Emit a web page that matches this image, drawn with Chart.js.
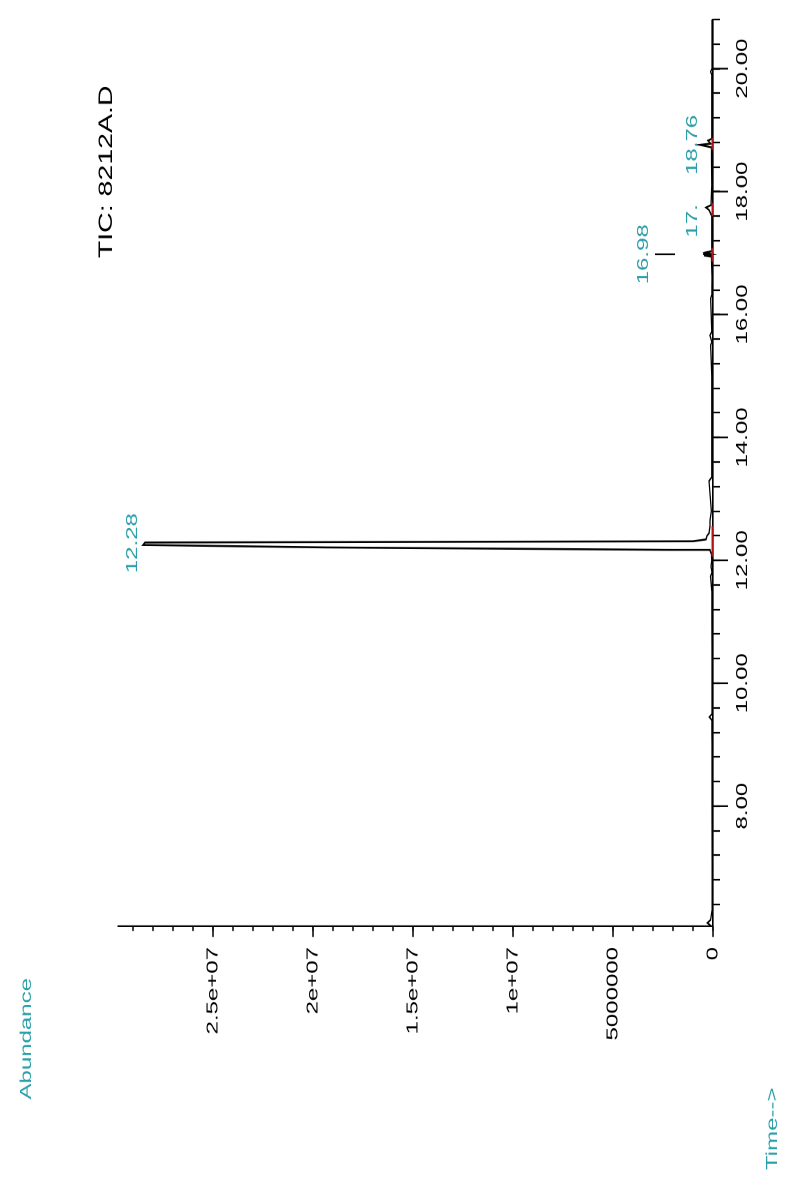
<!DOCTYPE html>
<html>
<head>
<meta charset="utf-8">
<title>TIC: 8212A.D</title>
<script src="https://cdn.jsdelivr.net/npm/chart.js@4.4.1/dist/chart.umd.min.js"></script>
<style>
  html, body { margin: 0; padding: 0; background: #fff; overflow: hidden; }
  /* chart is drawn upright, then turned on its side like the scanned printout */
  #wrap {
    position: absolute; left: 0; top: 0;
    width: 786px; height: 785px;
    transform-origin: 0 0;
    transform: translateY(1179px) rotate(-90deg) scaleX(1.5);
  }
</style>
</head>
<body>
<div id="wrap"><canvas id="tic" width="786" height="785"></canvas></div>
<script>
/* ---------------------------------------------------------------
   DATA
--------------------------------------------------------------- */
const traceTimes = [
  6.05, 6.10, 6.15, 6.30, 7.00, 8.00, 9.00, 9.40, 9.45, 9.50,
  10.50, 11.50, 11.74, 11.80, 11.90, 12.00, 12.10, 12.16, 12.17, 12.21,
  12.25, 12.29, 12.31, 12.34, 12.40, 12.44, 12.56, 12.65, 12.80, 13.29,
  13.35, 14.00, 15.00, 15.50, 15.55, 15.66, 15.72, 16.26, 16.32, 16.60,
  16.94, 16.96, 16.97, 16.98, 16.99, 17.01, 17.03, 17.60, 17.70, 17.74,
  17.78, 18.10, 18.72, 18.76, 18.78, 18.83, 18.86, 19.90, 19.95, 20.00,
  20.80
];
const traceAbundance = [
  100000, 280000, 120000, 50000, 40000, 50000, 50000, 60000, 180000, 50000,
  50000, 60000, 120000, 50000, 100000, 60000, 80000, 150000, 2200000, 19400000,
  28500000, 28400000, 1000000, 350000, 300000, 200000, 150000, 150000, 80000, 200000,
  70000, 60000, 60000, 120000, 60000, 150000, 60000, 120000, 60000, 50000,
  80000, 450000, 100000, 500000, 100000, 350000, 70000, 60000, 200000, 350000,
  100000, 60000, 80000, 650000, 120000, 250000, 60000, 60000, 120000, 50000,
  50000
];

// integration baselines (red)
const integStart = [12.06, 16.86, 17.60, 18.68];
const integEnd   = [12.56, 17.08, 17.81, 18.87];
const integLevel = 40000;

// labelled peaks
const peakTimes   = [12.28, 16.98, 17.74, 18.76];
const peakHeights = [28500000, 500000, 350000, 650000];
const peakLabels  = ["12.28", "16.98", "17.", "18.76"];
const peakFullLabels = ["12.28", "16.98", "17.74", "18.76"];

// axis ticks
const timeTicks = [8, 10, 12, 14, 16, 18, 20];
const timeTickLabels = ["8.00", "10.00", "12.00", "14.00", "16.00", "18.00", "20.00"];
const abundanceTicks = [0, 5000000, 10000000, 15000000, 20000000, 25000000];
const abundanceTickLabels = ["0", "5000000", "1e+07", "1.5e+07", "2e+07", "2.5e+07"];

/* ---------------------------------------------------------------
   STYLE
--------------------------------------------------------------- */
const TEAL = "#2a9fa8";
const RED = "#c81818";
const FONT = "'Liberation Sans', Arial, sans-serif";
Chart.defaults.font.family = FONT;

// how far each peak label sits above its apex (px), extra lift uses a leader line
const labelGap = [6, 55, 9, 3];
const leader = [null, [28, 48], null, null];

function labelFor(v, ticks, labels) {
  const i = ticks.findIndex(t => Math.abs(t - v) < 1e-6);
  return i < 0 ? "" : labels[i];
}

/* ---------------------------------------------------------------
   EXTRA DRAWING: long major ticks, peak labels, captions
--------------------------------------------------------------- */
const decorations = {
  id: "decorations",
  afterDraw(chart) {
    const { ctx, scales: { x, y } } = chart;
    ctx.save();

    // major ticks
    ctx.strokeStyle = "#000";
    ctx.lineWidth = 1.1;
    timeTicks.forEach(t => {
      const px = x.getPixelForValue(t);
      ctx.beginPath(); ctx.moveTo(px, x.top); ctx.lineTo(px, x.top + 15); ctx.stroke();
    });
    ctx.lineWidth = 1.5;
    abundanceTicks.forEach(v => {
      const py = y.getPixelForValue(v);
      ctx.beginPath(); ctx.moveTo(y.right, py); ctx.lineTo(y.right - 7.3, py); ctx.stroke();
    });

    // peak labels
    ctx.font = "16px " + FONT;
    ctx.textBaseline = "alphabetic";
    peakTimes.forEach((t, i) => {
      const px = x.getPixelForValue(t);
      const py = y.getPixelForValue(peakHeights[i]);
      if (leader[i]) {
        ctx.strokeStyle = "#000"; ctx.lineWidth = 1.1;
        ctx.beginPath(); ctx.moveTo(px, py - leader[i][0]); ctx.lineTo(px, py - leader[i][1]); ctx.stroke();
      }
      ctx.fillStyle = TEAL;
      const full = ctx.measureText(peakFullLabels[i]).width;
      ctx.textAlign = "left";
      ctx.fillText(peakLabels[i], px - full / 2, py - labelGap[i]);
    });

    // captions
    ctx.fillStyle = "#000";
    ctx.font = "19px " + FONT;
    ctx.textAlign = "right";
    ctx.fillText("TIC: 8212A.D", 729, 112);

    ctx.fillStyle = TEAL;
    ctx.font = "16px " + FONT;
    ctx.textAlign = "left";
    ctx.fillText("Abundance", 53, 31);
    ctx.fillText("Time-->", 6, 777);

    ctx.restore();
  }
};

/* ---------------------------------------------------------------
   CHART
--------------------------------------------------------------- */
const traceData = traceTimes.map((t, i) => ({ x: t, y: traceAbundance[i] }));
const integData = [];
integStart.forEach((s, i) => {
  integData.push({ x: s, y: integLevel }, { x: integEnd[i], y: integLevel }, { x: integEnd[i] + 0.001, y: null });
});

new Chart(document.getElementById("tic"), {
  type: "line",
  data: {
    datasets: [
      { data: traceData, borderColor: "#000", borderWidth: 1.3, pointRadius: 0, tension: 0, clip: false, order: 2 },
      { data: integData, borderColor: RED, borderWidth: 1.3, pointRadius: 0, spanGaps: false, clip: false, order: 1 }
    ]
  },
  options: {
    responsive: false,
    animation: false,
    devicePixelRatio: 2,
    layout: { padding: { top: 118, right: 7.6, left: 0, bottom: 0 } },
    plugins: { legend: { display: false }, tooltip: { enabled: false }, title: { display: false } },
    scales: {
      x: {
        type: "linear",
        min: 6.05,
        max: 20.8,
        afterFit(s) { s.height = 72; },
        afterBuildTicks(s) {
          const ticks = [];
          for (let k = 16; k <= 52; k++) ticks.push({ value: Math.round(k * 40) / 100 });
          s.ticks = ticks;
        },
        ticks: {
          autoSkip: false, maxRotation: 0, minRotation: 0, padding: 13,
          color: "#000", font: { size: 16 },
          callback: v => labelFor(v, timeTicks, timeTickLabels)
        },
        grid: { drawOnChartArea: false, drawTicks: true, tickLength: 7, tickColor: "#000", tickWidth: 1.1 },
        border: { display: true, color: "#000", width: 1.6 }
      },
      y: {
        min: 0,
        max: 29750000,
        afterFit(s) { s.width = 168.67; },
        afterBuildTicks(s) {
          const ticks = [];
          for (let k = 0; k <= 29; k++) ticks.push({ value: k * 1000000 });
          s.ticks = ticks;
        },
        ticks: {
          autoSkip: false, padding: 10.7,
          color: "#000", font: { size: 16 },
          callback: v => labelFor(v, abundanceTicks, abundanceTickLabels)
        },
        grid: { drawOnChartArea: false, drawTicks: true, tickLength: 3.3, tickColor: "#000", tickWidth: 1.5 },
        border: { display: true, color: "#000", width: 1.1 }
      }
    }
  },
  plugins: [decorations]
});
</script>
</body>
</html>
